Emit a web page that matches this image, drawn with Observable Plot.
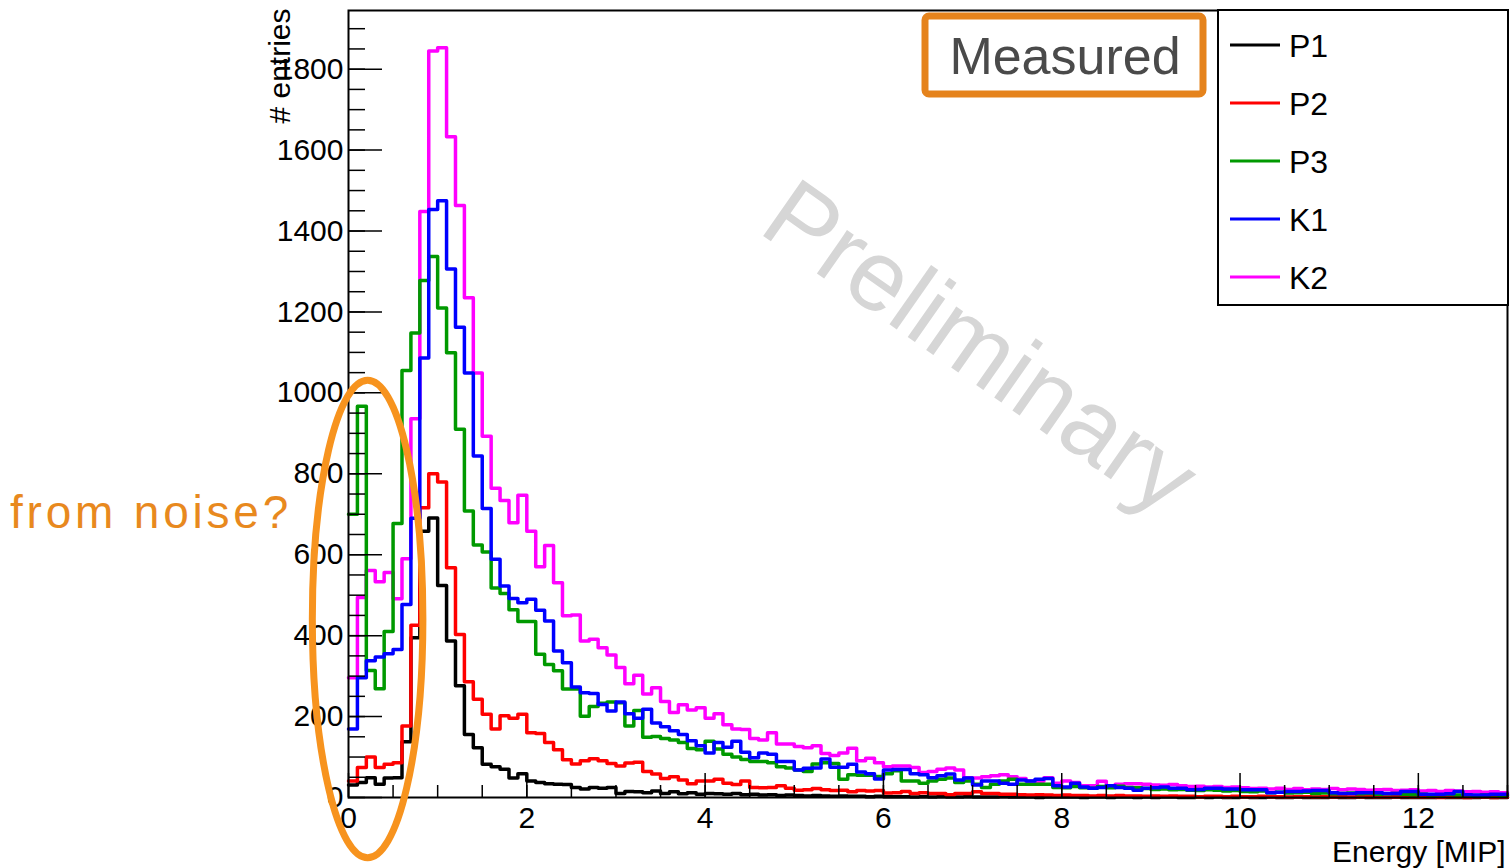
<!DOCTYPE html>
<html>
<head>
<meta charset="utf-8">
<script src="https://cdn.jsdelivr.net/npm/d3@7"></script>
<script src="https://cdn.jsdelivr.net/npm/@observablehq/plot@0.6"></script>
<style>
  html, body { margin: 0; padding: 0; background: #fff; }
  #chart { width: 1511px; height: 868px; overflow: hidden; }
  #chart svg { display: block; }
</style>
</head>
<body>
<div id="chart"></div>
<script>
// Energy deposit histograms, 130 bins of 0.1 MIP from 0 to 13 MIP
const binWidth = 0.1;
const seriesNames = ["P1", "P2", "P3", "K1", "K2"];
const seriesColors = ["#000000", "#ff0000", "#009900", "#0000ff", "#ff00ff"];

const P1 = [
  31, 37, 49, 33, 48, 49, 138, 395, 658, 691,
  524, 387, 276, 156, 123, 82, 76, 70, 48, 59,
  41, 37, 34, 33, 32, 25, 21, 25, 23, 25,
  10, 15, 14, 12, 16, 10, 14, 9, 12, 8,
  10, 9, 8, 10, 7, 8, 6, 7, 5, 6,
  5, 4, 5, 4, 3, 4, 3, 3, 2, 3,
  2, 2, 2, 1, 2, 1, 2, 1, 1, 2,
  1, 1, 1, 2, 1, 1, 1, 0, 1, 1,
  1, 1, 0, 1, 1, 0, 1, 1, 0, 1,
  0, 1, 1, 0, 0, 1, 0, 1, 0, 0,
  1, 0, 0, 1, 0, 0, 1, 0, 0, 0,
  1, 0, 0, 1, 0, 0, 0, 1, 0, 0,
  0, 0, 1, 0, 0, 0, 0, 1, 0, 0
];

const P2 = [
  41, 74, 100, 74, 82, 86, 177, 426, 716, 800,
  780, 568, 403, 286, 243, 206, 169, 202, 196, 206,
  160, 158, 136, 118, 93, 83, 91, 96, 91, 84,
  78, 85, 87, 64, 58, 47, 51, 43, 34, 41,
  41, 45, 35, 32, 41, 25, 24, 25, 29, 23,
  18, 19, 22, 19, 17, 18, 14, 17, 16, 17,
  11, 12, 15, 10, 12, 10, 10, 7, 10, 10,
  14, 10, 10, 8, 8, 7, 6, 7, 6, 5,
  6, 5, 5, 4, 5, 4, 5, 4, 4, 3,
  4, 3, 4, 3, 3, 2, 3, 3, 2, 3,
  2, 2, 3, 2, 2, 1, 2, 2, 1, 2,
  1, 2, 1, 1, 2, 1, 1, 1, 2, 1,
  1, 1, 0, 1, 1, 0, 1, 1, 0, 1
];

const P3 = [
  700, 967, 314, 269, 410, 677, 1055, 1148, 1278, 1337,
  1210, 1099, 910, 708, 624, 607, 518, 504, 464, 435,
  435, 354, 329, 313, 268, 268, 201, 225, 233, 236,
  234, 177, 215, 149, 151, 146, 142, 136, 121, 118,
  139, 120, 107, 100, 94, 89, 89, 86, 76, 73,
  68, 64, 83, 86, 84, 45, 56, 55, 55, 52,
  59, 66, 41, 41, 35, 41, 45, 48, 37, 41,
  33, 25, 33, 41, 45, 33, 33, 33, 33, 25,
  24, 27, 24, 23, 27, 24, 28, 25, 24, 22,
  20, 21, 19, 20, 18, 17, 19, 18, 16, 17,
  15, 14, 16, 12, 13, 11, 12, 13, 10, 11,
  9, 10, 11, 9, 10, 8, 9, 10, 8, 7,
  8, 6, 7, 8, 6, 7, 5, 6, 7, 5
];

const K1 = [
  169, 296, 338, 347, 355, 366, 477, 690, 1086, 1453,
  1475, 1306, 1162, 1049, 844, 714, 589, 523, 492, 481,
  490, 463, 436, 362, 333, 273, 259, 257, 230, 214,
  236, 207, 196, 218, 184, 175, 165, 156, 140, 128,
  110, 136, 124, 139, 112, 98, 110, 107, 89, 89,
  68, 72, 73, 95, 75, 75, 82, 63, 59, 46,
  68, 69, 69, 59, 56, 49, 54, 58, 43, 48,
  31, 41, 41, 35, 33, 43, 41, 45, 47, 29,
  26, 35, 26, 23, 25, 29, 25, 23, 18, 23,
  24, 26, 23, 23, 19, 20, 23, 23, 21, 21,
  19, 19, 19, 12, 13, 15, 15, 16, 17, 17,
  12, 10, 10, 12, 12, 12, 10, 10, 15, 15,
  8, 8, 8, 9, 15, 7, 6, 6, 8, 8
];

const K2 = [
  296, 494, 561, 533, 556, 491, 590, 936, 1448, 1845,
  1853, 1633, 1463, 1235, 1049, 893, 764, 734, 679, 747,
  658, 570, 623, 531, 449, 451, 387, 391, 370, 352,
  321, 281, 302, 256, 271, 237, 210, 229, 216, 222,
  196, 207, 180, 169, 168, 146, 142, 160, 132, 132,
  126, 123, 128, 109, 104, 110, 122, 91, 97, 86,
  76, 78, 78, 74, 62, 64, 70, 73, 68, 49,
  48, 51, 54, 56, 51, 47, 41, 40, 49, 35,
  41, 37, 29, 29, 40, 27, 33, 34, 34, 33,
  31, 30, 32, 29, 27, 28, 26, 27, 25, 26,
  24, 22, 23, 21, 23, 20, 22, 19, 21, 20,
  22, 19, 21, 20, 18, 19, 20, 17, 18, 19,
  16, 17, 15, 17, 16, 14, 15, 13, 14, 12
];

// axis ticks (ROOT style: primary + secondary divisions, drawn inside the frame)
const xMajorTicks = [0, 2, 4, 6, 8, 10, 12];
const xMinorTicks = [0, 0.5, 1, 1.5, 2, 2.5, 3, 3.5, 4, 4.5, 5, 5.5, 6, 6.5, 7, 7.5, 8, 8.5, 9, 9.5, 10, 10.5, 11, 11.5, 12, 12.5, 13];
const yMajorTicks = [0, 200, 400, 600, 800, 1000, 1200, 1400, 1600, 1800];
const yMinorTicks = d3.range(0, 1901, 50);

const seriesValues = {P1, P2, P3, K1, K2};
const drawOrder = ["P1", "P2", "K2", "P3", "K1"];

// one step outline per series: bin lower edges plus the closing upper edge
const rows = [];
for (const name of drawOrder) {
  const vals = seriesValues[name];
  vals.forEach((v, i) => rows.push({series: name, x: +(i * binWidth).toFixed(2), y: v}));
  rows.push({series: name, x: +(vals.length * binWidth).toFixed(2), y: vals[vals.length - 1]});
}

const W = 1511, H = 868;
const mL = 348, mR = 4, mT = 10, mB = 71;
const font = "'Liberation Sans', Arial, Helvetica, sans-serif";

const plot = Plot.plot({
  width: W,
  height: H,
  marginLeft: mL,
  marginRight: mR,
  marginTop: mT,
  marginBottom: mB,
  style: {fontFamily: font, background: "white", color: "black", overflow: "visible"},
  x: {domain: [0, 13]},
  y: {domain: [0, 1945]},
  color: {domain: seriesNames, range: seriesColors},
  marks: [
    Plot.text(["Preliminary"], {x: 7.08, y: 1110, text: d => d, rotate: 35, fontSize: 100, fill: "#d6d6d6"}),
    Plot.line(rows, {x: "x", y: "y", z: "series", stroke: "series", curve: "step-after", strokeWidth: 3.5}),
    Plot.axisX({ticks: xMinorTicks, tickSize: -12, fill: "none", label: null, strokeWidth: 1.5}),
    Plot.axisX({ticks: xMajorTicks, tickSize: -24, fill: "none", label: null, strokeWidth: 1.5}),
    Plot.axisX({ticks: xMajorTicks, tickSize: 0, tickPadding: 9, tickFormat: d => String(d), label: null, fontSize: 30}),
    Plot.axisY({ticks: yMinorTicks, tickSize: -17, fill: "none", label: null, strokeWidth: 1.5}),
    Plot.axisY({ticks: yMajorTicks, tickSize: 0, tickPadding: 5, tickFormat: d => String(d), label: null, fontSize: 30}),
    Plot.axisY({ticks: yMajorTicks, tickSize: -34, fill: "none", label: null, strokeWidth: 1.5}),
    Plot.text(["Energy [MIP]"], {frameAnchor: "bottom-right", text: d => d, textAnchor: "end", dx: -2, dy: 64, fontSize: 30}),
    Plot.text(["# entries"], {frameAnchor: "top-left", text: d => d, rotate: -90, textAnchor: "end", dx: -80, dy: -2, fontSize: 30}),
    Plot.frame({stroke: "black", strokeWidth: 2})
  ]
});

document.getElementById("chart").appendChild(plot);

const svg = d3.select(plot);
const sx = plot.scale("x");
const sy = plot.scale("y");

// legend box in the upper right corner
const legend = svg.append("g").attr("font-family", font).attr("text-anchor", "start");
const lx = 1218, ly = mT, lw = W - 3 - 1218, lh = 295;
legend.append("rect")
  .attr("x", lx).attr("y", ly).attr("width", lw).attr("height", lh)
  .attr("fill", "white").attr("stroke", "black").attr("stroke-width", 2);
const rowStep = 58, firstRow = 45;
seriesNames.forEach((name, i) => {
  const cy = firstRow + i * rowStep;
  legend.append("line")
    .attr("x1", lx + 12).attr("x2", lx + 62).attr("y1", cy).attr("y2", cy)
    .attr("stroke", seriesColors[i]).attr("stroke-width", 3);
  legend.append("text")
    .attr("x", lx + 71).attr("y", cy).attr("dy", "0.36em")
    .attr("text-anchor", "start")
    .attr("font-size", 32).attr("fill", "black").text(name);
});

// "Measured" tag
const tag = svg.append("g").attr("font-family", font);
tag.append("rect")
  .attr("x", 925).attr("y", 16).attr("width", 278).attr("height", 78)
  .attr("rx", 4).attr("fill", "white").attr("stroke", "#e5831c").attr("stroke-width", 7);
tag.append("text")
  .attr("x", 1065).attr("y", 74).attr("text-anchor", "middle")
  .attr("font-size", 52).attr("fill", "#4a4a4a").text("Measured");

// low-energy noise annotation
const ex0 = sx.apply(0.22), ey0 = sy.apply(440);
svg.append("ellipse")
  .attr("cx", ex0).attr("cy", ey0)
  .attr("rx", sx.apply(0.22) - sx.apply(-0.40)).attr("ry", sy.apply(0) - sy.apply(590))
  .attr("fill", "none").attr("stroke", "#f7931e").attr("stroke-width", 7);
svg.append("text")
  .attr("x", 10).attr("y", 528)
  .attr("text-anchor", "start")
  .attr("font-family", font).attr("font-size", 46).attr("letter-spacing", 3.8)
  .attr("fill", "#e8891e").text("from noise?");
</script>
</body>
</html>
